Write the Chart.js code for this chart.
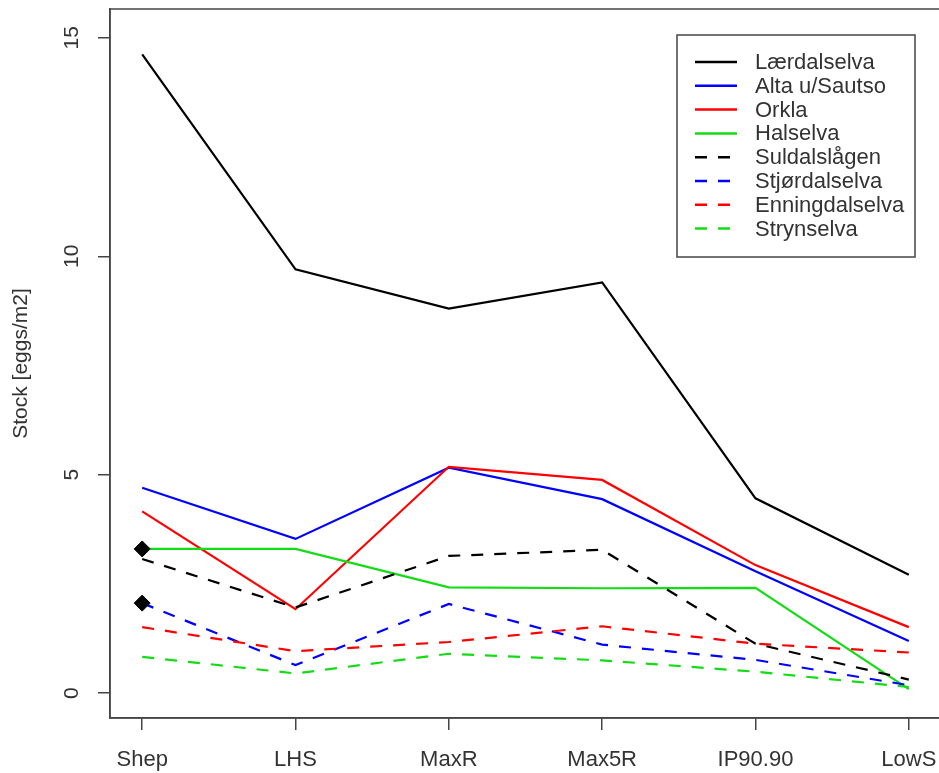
<!DOCTYPE html>
<html>
<head>
<meta charset="utf-8">
<title>Stock</title>
<script src="https://cdn.jsdelivr.net/npm/chart.js@4/dist/chart.umd.min.js"></script>
<style>
  html, body { margin: 0; padding: 0; background: #fff; overflow: hidden; }
  canvas { display: block; }
</style>
</head>
<body>
<canvas id="stock-chart" width="950" height="773"></canvas>
<script>
// reference point methods on the x axis
var methods = ["Shep", "LHS", "MaxR", "Max5R", "IP90.90", "LowS"];

// stock (eggs/m2) per river
var laerdalselva   = [14.62, 9.70, 8.80, 9.40, 4.46, 2.71];
var altaSautso     = [4.70, 3.53, 5.16, 4.44, 2.79, 1.19];
var orkla          = [4.16, 1.92, 5.18, 4.88, 2.93, 1.51];
var halselva       = [3.30, 3.30, 2.42, 2.40, 2.41, 0.09];
var suldalslagen   = [3.07, 1.96, 3.14, 3.28, 1.13, 0.31];
var stjordalselva  = [2.06, 0.64, 2.04, 1.11, 0.76, 0.18];
var enningdalselva = [1.51, 0.96, 1.17, 1.53, 1.13, 0.93];
var strynselva     = [0.83, 0.45, 0.90, 0.75, 0.49, 0.14];

var riverNames = ["Lærdalselva", "Alta u/Sautso", "Orkla", "Halselva",
                  "Suldalslågen", "Stjørdalselva", "Enningdalselva", "Strynselva"];
var riverValues = [laerdalselva, altaSautso, orkla, halselva,
                   suldalslagen, stjordalselva, enningdalselva, strynselva];

var yTicks = [0, 5, 10, 15];

var colours = ["#000000", "#0000ff", "#ff0000", "#14dc14",
               "#000000", "#0000ff", "#ff0000", "#14dc14"];
var dashed = [false, false, false, false, true, true, true, true];
var dashPattern = [12, 11];
// the two black diamonds sit on these rivers at Shep
var diamondRivers = ["Halselva", "Stjørdalselva"];

var textColour = "#333";
var axisColour = "#444";
var fontFamily = "'Liberation Sans', Arial, sans-serif";
Chart.defaults.font.family = fontFamily;
Chart.defaults.font.size = 21;
Chart.defaults.color = textColour;

var datasets = riverNames.map(function(name, i) {
  var marked = diamondRivers.indexOf(name) >= 0;
  return {
    label: name,
    data: riverValues[i].map(function(v, j) { return { x: j, y: v }; }),
    borderColor: colours[i],
    backgroundColor: colours[i],
    borderWidth: 2.2,
    borderDash: dashed[i] ? dashPattern : [],
    tension: 0,
    fill: false,
    order: riverNames.length - i,
    pointStyle: 'rectRot',
    pointRadius: function(ctx) { return marked && ctx.dataIndex === 0 ? 8 : 0; },
    pointHoverRadius: 0,
    pointBackgroundColor: "#000",
    pointBorderColor: "#000",
    pointBorderWidth: 1
  };
});

// box around the plot region, like R's box()
var plotBox = {
  id: 'plotBox',
  afterDatasetsDraw: function(chart) {
    var a = chart.chartArea, ctx = chart.ctx;
    ctx.save();
    ctx.strokeStyle = axisColour;
    ctx.lineWidth = 1.5;
    ctx.setLineDash([]);
    ctx.strokeRect(a.left, a.top, a.right - a.left, a.bottom - a.top);
    ctx.restore();
  }
};

// legend drawn inside the plot, top right
var insideLegend = {
  id: 'insideLegend',
  afterDraw: function(chart) {
    var ctx = chart.ctx;
    var left = 677, top = 35, w = 238, h = 222;
    var rowH = 23.8, firstRow = 62;
    ctx.save();
    ctx.fillStyle = "#fff";
    ctx.fillRect(left, top, w, h);
    ctx.strokeStyle = axisColour;
    ctx.lineWidth = 1.5;
    ctx.setLineDash([]);
    ctx.strokeRect(left, top, w, h);
    ctx.font = "22px " + fontFamily;
    ctx.textBaseline = "middle";
    ctx.textAlign = "left";
    chart.data.datasets.forEach(function(ds, i) {
      var y = firstRow + i * rowH;
      ctx.beginPath();
      ctx.strokeStyle = ds.borderColor;
      ctx.lineWidth = 2.5;
      ctx.setLineDash(ds.borderDash);
      ctx.moveTo(695, y);
      ctx.lineTo(737, y);
      ctx.stroke();
      ctx.fillStyle = textColour;
      ctx.fillText(ds.label, 755, y + 1);
    });
    ctx.restore();
  }
};

var ctx = document.getElementById("stock-chart");
window.stockChart = new Chart(ctx, {
  type: 'line',
  data: { datasets: datasets },
  plugins: [plotBox, insideLegend],
  options: {
    responsive: false,
    animation: false,
    devicePixelRatio: 1,
    layout: { padding: { left: 0, top: 6, right: 8, bottom: 0 } },
    plugins: {
      legend: { display: false },
      tooltip: { enabled: false }
    },
    scales: {
      x: {
        type: 'linear',
        min: -0.21,
        max: 5.21,
        afterBuildTicks: function(axis) {
          axis.ticks = methods.map(function(m, i) { return { value: i }; });
        },
        afterFit: function(axis) {
          axis.height = 55;
          axis.paddingLeft = 0;
          axis.paddingRight = 0;
        },
        ticks: {
          autoSkip: false,
          maxRotation: 0,
          padding: 17,
          color: textColour,
          font: { size: 22 },
          callback: function(value) { return methods[value]; }
        },
        grid: {
          drawOnChartArea: false,
          drawTicks: true,
          tickLength: 12,
          color: axisColour,
          lineWidth: 1.5
        },
        border: { display: true, color: axisColour, width: 1.5 }
      },
      y: {
        type: 'linear',
        min: -0.57,
        max: 15.66,
        afterBuildTicks: function(axis) {
          axis.ticks = yTicks.map(function(v) { return { value: v }; });
        },
        afterFit: function(axis) {
          axis.width = 110;
          axis.paddingTop = 0;
          axis.paddingBottom = 0;
        },
        ticks: {
          minRotation: 90,
          maxRotation: 90,
          crossAlign: 'center',
          padding: 14,
          color: textColour
        },
        grid: {
          drawOnChartArea: false,
          drawTicks: true,
          tickLength: 12,
          color: axisColour,
          lineWidth: 1.5
        },
        border: { display: true, color: axisColour, width: 1.5 },
        title: {
          display: true,
          text: 'Stock [eggs/m2]',
          color: textColour,
          font: { size: 21 },
          padding: { top: 9, bottom: 0 }
        }
      }
    }
  }
});
</script>
</body>
</html>
